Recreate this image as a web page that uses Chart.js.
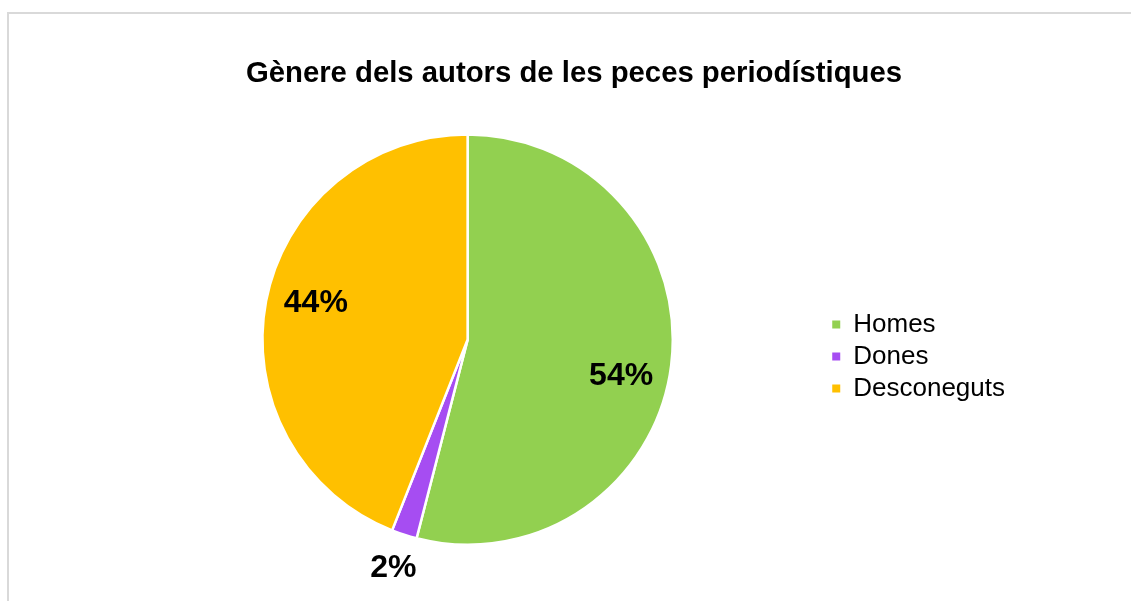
<!DOCTYPE html>
<html>
<head>
<meta charset="utf-8">
<script src="https://cdn.jsdelivr.net/npm/chart.js@4.4.1/dist/chart.umd.min.js"></script>
<style>
  html, body { margin: 0; padding: 0; background: #fff; overflow: hidden; }
  #wrap { position: relative; width: 1131px; height: 601px; overflow: hidden; }
  #frame { position: absolute; left: 7px; top: 12px; width: 2000px; height: 2000px;
           border-left: 2px solid #d9d9d9; border-top: 2px solid #d9d9d9; box-sizing: border-box; }
  canvas { position: absolute; left: 0; top: 0; }
</style>
</head>
<body>
<div id="wrap">
  <div id="frame"></div>
  <canvas id="c" width="1131" height="601"></canvas>
</div>
<script>
const titleText = 'Gènere dels autors de les peces periodístiques';
const categories = ['Homes', 'Dones', 'Desconeguts'];
const values = [54, 2, 44];
const colors = ['#92D050', '#A64DF2', '#FFC000'];

const FONT = "'Liberation Sans', Arial, Helvetica, sans-serif";
Chart.defaults.font.family = FONT;
Chart.defaults.color = '#000';

const pctLabels = {
  id: 'pctLabels',
  afterDatasetsDraw(chart) {
    const ctx = chart.ctx;
    const meta = chart.getDatasetMeta(0);
    const data = chart.data.datasets[0].data;
    const total = data.reduce((a, b) => a + b, 0);
    ctx.save();
    ctx.font = 'bold 32px ' + FONT;
    ctx.fillStyle = '#000';
    ctx.textAlign = 'center';
    ctx.textBaseline = 'middle';
    meta.data.forEach((arc, i) => {
      const p = arc.getProps(['x', 'y', 'startAngle', 'endAngle', 'outerRadius'], true);
      const pct = Math.round(data[i] / total * 100);
      const small = pct < 5;
      const ang = p.startAngle + (p.endAngle - p.startAngle) * (small ? 0.5 : 0.525);
      const r = small ? p.outerRadius + 35 : p.outerRadius * 0.765;
      const x = p.x + Math.cos(ang) * r;
      const y = p.y + Math.sin(ang) * r + (small ? 0 : 4);
      ctx.fillText(pct + '%', x, y);
    });
    ctx.restore();
  }
};

const shiftTitle = {
  id: 'shiftTitle',
  afterLayout(chart) {
    const t = chart.titleBlock;
    if (t) { t.left += 12; t.right += 12; }
  }
};

new Chart(document.getElementById('c'), {
  type: 'pie',
  data: {
    labels: categories,
    datasets: [{
      data: values,
      backgroundColor: colors,
      borderColor: '#ffffff',
      borderWidth: 2.5
    }]
  },
  options: {
    responsive: false,
    animation: false,
    devicePixelRatio: 1,
    layout: { padding: { left: 109, right: 116, top: 0, bottom: 55 } },
    plugins: {
      title: {
        display: true,
        text: titleText,
        color: '#000',
        font: { size: 29.3, weight: 'bold', family: FONT },
        padding: { top: 56, bottom: 42 }
      },
      legend: {
        display: true,
        position: 'right',
        fullSize: false,
        title: { display: true, text: ' ', padding: 0, font: { size: 28 } },
        labels: {
          boxWidth: 8,
          boxHeight: 8,
          padding: 6,
          color: '#000',
          font: { size: 26, family: FONT },
          generateLabels(chart) {
            const base = Chart.overrides.pie.plugins.legend.labels.generateLabels(chart);
            return base.map(l => Object.assign({}, l, { lineWidth: 0, strokeStyle: 'rgba(0,0,0,0)' }));
          }
        }
      },
      tooltip: { enabled: false }
    }
  },
  plugins: [pctLabels, shiftTitle]
});
</script>
</body>
</html>
